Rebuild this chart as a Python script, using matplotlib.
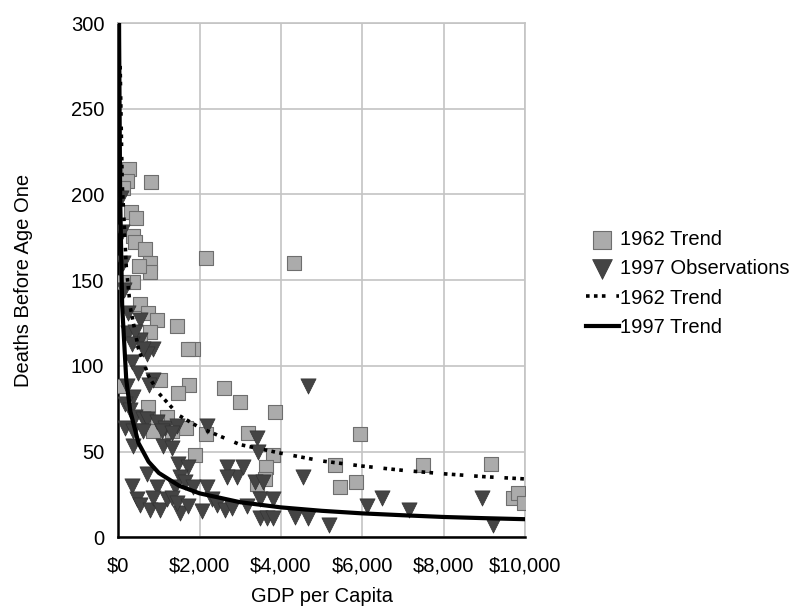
import numpy as np
import matplotlib.pyplot as plt

plt.rcParams['font.family'] = ['Liberation Sans', 'DejaVu Sans']

# 1962 observations (legend in the source calls them "1962 Trend")
gdp_1962 = [270, 221, 811, 123, 319, 442, 369, 418, 663, 786, 786, 516, 369, 123,
            2162, 4324, 541, 737, 958, 1450, 786, 541, 1843, 1720, 1032, 1744, 1474,
            49, 737, 2604, 2998, 3857, 1204, 958, 1671, 860, 1327, 2162, 3194, 1892,
            3808, 3636, 3612, 3415, 5946, 5332, 5454, 5848, 7494, 9165, 9705, 9828, 9975]
deaths_1962 = [215, 208, 207, 204, 190, 186, 176, 172, 168, 160, 155, 158, 149, 149,
               163, 160, 136, 131, 127, 123, 120, 115, 110, 110, 92, 89, 84,
               88, 76, 87, 79, 73, 70, 67, 64, 62, 62, 60, 61, 48,
               48, 41, 34, 31, 60, 42, 29, 32, 42, 43, 23, 26, 20]

# 1997 observations
gdp_1997 = [246, 541, 860, 713, 614, 344, 491, 860, 762, 221, 369, 172, 295, 418, 614,
            713, 958, 1155, 1450, 172, 369, 614, 1081, 1327, 369, 1106, 1327, 2187,
            3415, 3440, 344, 713, 958, 1474, 1720, 1523, 1400, 1646, 1843, 2187, 2678,
            2924, 3071, 2678, 467, 541, 786, 860, 1032, 1204, 1327, 1523, 1450, 1720,
            2064, 2310, 2432, 2629, 2801, 3170, 3366, 3563, 3489, 3808, 3489, 3661,
            3808, 4349, 4668, 4545, 4668, 5184, 6118, 6487, 7150, 8943, 9214,
            246, 541, 418, 344, 74, 98, 123, 147]
deaths_1997 = [119, 115, 110, 107, 110, 102, 96, 92, 89, 88, 82, 78, 74, 70, 69,
               69, 67, 64, 65, 64, 62, 62, 62, 61, 53, 53, 52, 65,
               58, 50, 30, 37, 29, 43, 41, 35, 29, 32, 29, 29, 41,
               35, 41, 35, 22, 19, 16, 23, 16, 22, 23, 14, 20, 18,
               15, 22, 19, 16, 17, 18, 32, 32, 22, 22, 11, 11,
               11, 12, 88, 35, 11, 7, 18, 23, 16, 23, 7,
               131, 127, 120, 113, 198, 178, 160, 144]

# trend curves
trend_gdp_1962 = [50, 100, 200, 300, 500, 750, 1000, 1500, 2000, 3000, 4000, 5000,
                  6000, 7000, 8000, 9000, 10000]
trend_deaths_1962 = [275, 207, 158, 134, 110, 94, 84, 71, 64, 54, 49, 44.5,
                     41.5, 39, 37, 35.3, 34]
trend_gdp_1997 = [20, 25, 50, 100, 200, 300, 500, 750, 1000, 1500, 2000, 3000, 4000,
                  5000, 6000, 7000, 8000, 9000, 10000]
trend_deaths_1997 = [330, 292, 199, 135, 92, 73.5, 55, 44, 37.5, 30, 25.6, 20.4, 17.4,
                     15.4, 13.9, 12.8, 11.8, 11.1, 10.5]

x_ticks = [0, 2000, 4000, 6000, 8000, 10000]
x_labels = ['$0', '$2,000', '$4,000', '$6,000', '$8,000', '$10,000']
y_ticks = [0, 50, 100, 150, 200, 250, 300]

fig = plt.figure(figsize=(7.98, 6.07), dpi=100)
ax = fig.add_axes([0.148, 0.115, 0.51, 0.847])

sq = ax.scatter(gdp_1962, deaths_1962, marker='s', s=110, facecolor='#ababab',
                edgecolor='#6e6e6e', linewidth=0.8, zorder=3, label='1962 Trend')
tri = ax.scatter(gdp_1997, deaths_1997, marker='v', s=120, facecolor='#444444',
                 edgecolor='#333333', linewidth=0.5, zorder=4, label='1997 Observations')
l62, = ax.plot(trend_gdp_1962, trend_deaths_1962, color='black', lw=2.6,
               linestyle=(0, (1, 1.2, 1, 1.2, 1, 3)), zorder=5, label='1962 Trend')
l97, = ax.plot(trend_gdp_1997, trend_deaths_1997, color='black', lw=3,
               zorder=6, label='1997 Trend')

ax.set_xlim(0, 10000)
ax.set_ylim(0, 300)
ax.set_xticks(x_ticks)
ax.set_xticklabels(x_labels)
ax.set_yticks(y_ticks)
ax.tick_params(length=0, labelsize=14.5)
ax.tick_params(axis='x', pad=14)
ax.tick_params(axis='y', pad=10)
ax.grid(True, color='#c4c4c4', lw=1.2)
ax.set_axisbelow(True)
for side in ['top', 'right']:
    ax.spines[side].set_color('#c4c4c4')
    ax.spines[side].set_linewidth(1.2)
for side in ['left', 'bottom']:
    ax.spines[side].set_color('black')
    ax.spines[side].set_linewidth(1.8)

ax.set_xlabel('GDP per Capita', fontsize=14.5, labelpad=8)
ax.set_ylabel('Deaths Before Age One', fontsize=14.5, labelpad=27)

fig.legend(handles=[sq, tri, l62, l97], loc='center left',
           bbox_to_anchor=(0.712, 0.533), frameon=False, fontsize=14.5,
           handlelength=1.6, handletextpad=0.05, labelspacing=0.5,
           markerscale=1.3)

fig.savefig('out.png', dpi=100)
